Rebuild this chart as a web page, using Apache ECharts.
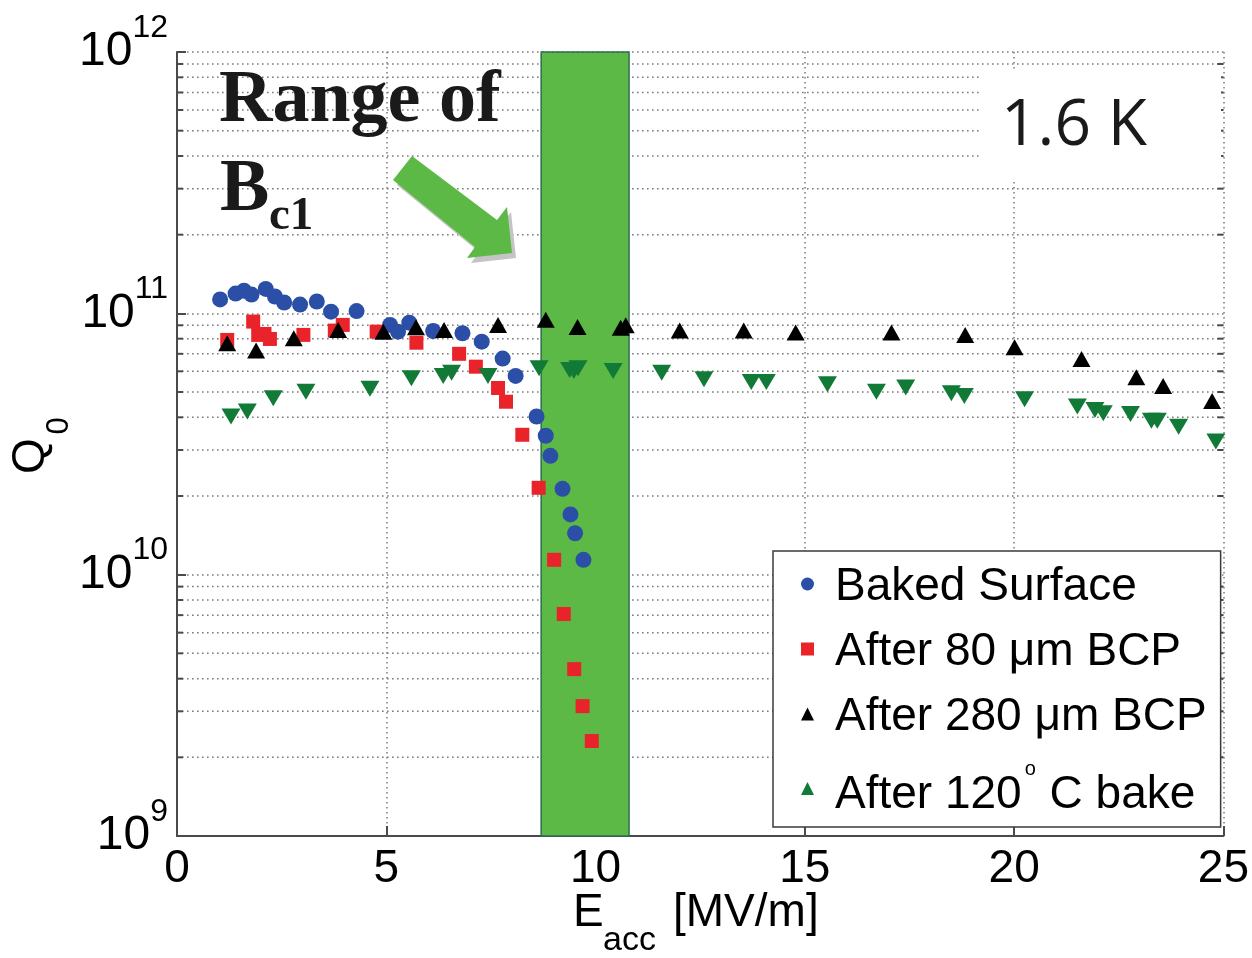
<!DOCTYPE html>
<html>
<head>
<meta charset="utf-8">
<script src="https://cdn.jsdelivr.net/npm/echarts@6/dist/echarts.min.js"></script>
<style>
  html, body { margin: 0; padding: 0; background: #fff; }
  #chart { width: 1252px; height: 958px; }
</style>
</head>
<body>
<div id="chart"></div>
<script>
// Q0 vs accelerating gradient at 1.6 K for successive surface treatments.

// Baked surface
const bakedE = [1.03, 1.40, 1.60, 1.78, 2.12, 2.34, 2.56, 2.94, 3.34, 3.68, 4.29, 5.09, 5.28, 5.55,
                6.12, 6.82, 7.28, 7.78, 8.09, 8.59, 8.81, 8.92, 9.21, 9.40, 9.51, 9.71];
const bakedQ = [1.13e11, 1.19e11, 1.22e11, 1.18e11, 1.24e11, 1.16e11, 1.10e11, 1.08e11, 1.11e11, 1.015e11,
                1.02e11, 9.03e10, 8.51e10, 9.21e10, 8.56e10, 8.39e10, 7.79e10, 6.71e10, 5.76e10, 4.03e10,
                3.40e10, 2.85e10, 2.13e10, 1.70e10, 1.44e10, 1.14e10];

// After 80 um BCP
const bcp80E = [1.20, 1.82, 1.94, 2.09, 2.22, 3.02, 3.77, 3.96, 4.77, 5.72, 6.74, 7.14, 7.67, 7.86,
                8.25, 8.64, 9.01, 9.24, 9.49, 9.69, 9.91];
const bcp80Q = [7.91e10, 9.30e10, 8.27e10, 8.34e10, 7.98e10, 8.27e10, 8.59e10, 9.03e10, 8.51e10, 7.72e10,
                7.0e10, 6.25e10, 5.18e10, 4.59e10, 3.43e10, 2.15e10, 1.14e10, 7.07e9, 4.35e9, 3.14e9, 2.31e9];

// After 280 um BCP
const bcp280E = [1.20, 1.89, 2.79, 3.85, 4.93, 5.71, 6.38, 7.67, 8.81, 9.57, 10.60, 10.72, 12.01, 13.54,
                 14.78, 17.07, 18.83, 20.01, 21.61, 22.92, 23.56, 24.73];
const bcp280Q = [7.69e10, 7.20e10, 8.03e10, 8.64e10, 8.51e10, 8.85e10, 8.64e10, 9.03e10, 9.44e10, 8.87e10,
                 8.80e10, 9.0e10, 8.59e10, 8.59e10, 8.44e10, 8.44e10, 8.27e10, 7.42e10, 6.69e10, 5.69e10,
                 5.27e10, 4.62e10];

// After 120 C bake
const bake120E = [1.29, 1.68, 2.30, 3.08, 4.61, 5.60, 6.36, 6.56, 7.43, 8.65, 9.38, 9.48, 9.58, 10.42,
                  11.58, 12.59, 13.72, 14.08, 15.54, 16.71, 17.41, 18.50, 18.81, 20.25, 21.51, 21.93,
                  22.13, 22.78, 23.28, 23.42, 23.93, 24.82];
const bake120Q = [4.03e10, 4.21e10, 4.73e10, 5.01e10, 5.14e10, 5.65e10, 5.76e10, 5.93e10, 5.76e10, 6.17e10,
                  6.07e10, 6.02e10, 6.17e10, 6.02e10, 5.93e10, 5.59e10, 5.46e10, 5.46e10, 5.35e10, 5.01e10,
                  5.20e10, 4.94e10, 4.83e10, 4.69e10, 4.40e10, 4.27e10, 4.15e10, 4.12e10, 3.88e10, 3.88e10,
                  3.68e10, 3.23e10];

// Range of Bc1 in gradient units (MV/m)
const bc1Range = [8.7, 10.8];

const seriesNames = ['Baked Surface', 'After 80 \u03bcm BCP', 'After 280 \u03bcm BCP', 'After 120\u00b0 C bake'];

// Axis ranges and tick labels
const xMin = 0, xMax = 25, xStep = 5;
const yMin = 1e9, yMax = 1e12;
const minorMantissas = [2, 3, 4, 5, 6, 7, 8, 9];
const decadeExponents = [9, 10, 11];

const SANS = "'Liberation Sans', Arial, Helvetica, sans-serif";
const SERIF = "'Liberation Serif', 'Times New Roman', serif";
const GRID_COLOR = '#7b7b7b';
const GRID_DASH = [1.6, 3.4];
const AXIS_COLOR = '#4a4a4a';

const pairs = (xs, ys) => xs.map((x, i) => [x, ys[i]]);

// minor log grid values: 2..9 x 10^n
const minorQ = [];
decadeExponents.forEach(e => minorMantissas.forEach(m => minorQ.push(m * Math.pow(10, e))));

const chart = echarts.init(document.getElementById('chart'), null, { renderer: 'canvas' });

const option = {
  animation: false,
  backgroundColor: '#fff',
  grid: { left: 177, right: 28, top: 52, bottom: 122, containLabel: false },
  xAxis: {
    type: 'value', min: xMin, max: xMax, interval: xStep,
    axisLine: { show: true, onZero: false, lineStyle: { color: AXIS_COLOR, width: 2 } },
    axisTick: { show: true, inside: true, length: 10, lineStyle: { color: AXIS_COLOR, width: 2 } },
    axisLabel: { fontFamily: SANS, fontSize: 46, color: '#000', margin: 10, showMinLabel: true, showMaxLabel: true },
    splitLine: { show: true, lineStyle: { color: GRID_COLOR, width: 1.5, type: GRID_DASH } }
  },
  yAxis: {
    type: 'log', logBase: 10, min: yMin, max: yMax,
    axisLine: { show: true, onZero: false, lineStyle: { color: AXIS_COLOR, width: 2 } },
    axisTick: { show: true, inside: true, length: 9, lineStyle: { color: AXIS_COLOR, width: 2 } },
    axisLabel: {
      margin: 9, color: '#000',
      formatter: v => '{b|10}{s|' + Math.round(Math.log10(v)) + '}',
      rich: {
        // base "10" sits on the tick, the exponent is raised above it
        b: { fontFamily: SANS, fontSize: 48, lineHeight: 64, color: '#000', padding: [0, 0, 16, 0], verticalAlign: 'bottom' },
        s: { fontFamily: SANS, fontSize: 32, lineHeight: 80, color: '#000', padding: [0, 0, 48, 0], verticalAlign: 'top' }
      }
    },
    splitLine: { show: true, lineStyle: { color: GRID_COLOR, width: 1.5, type: GRID_DASH } }
  },
  legend: {
    data: seriesNames,
    orient: 'vertical', left: 773, top: 551,
    backgroundColor: '#fff', borderColor: '#3a3a3a', borderWidth: 1.5, borderRadius: 0,
    padding: [13, 14, 9, 28],
    itemWidth: 13, itemHeight: 13, itemGap: 19,
    selectedMode: false,
    formatter: name => name === seriesNames[3]
      ? '{t|After 120}{d|o}{t| C bake}'
      : '{t|' + name + '}',
    textStyle: {
      padding: [0, 0, 0, 16],
      rich: {
        t: { fontFamily: SANS, fontSize: 46, lineHeight: 52, color: '#000', verticalAlign: 'bottom' },
        d: { fontFamily: SANS, fontSize: 20, lineHeight: 59, color: '#000', padding: [0, 1, 0, 3], verticalAlign: 'top' }
      }
    }
  },
  series: [
    {
      // minor log-scale grid lines with short ticks on both frame sides
      type: 'custom', name: 'minorGrid', silent: true, z: 0.5,
      data: minorQ.map(q => [xMin, q]),
      renderItem: (params, api) => {
        const q = api.value(1);
        const p0 = api.coord([xMin, q]);
        const p1 = api.coord([xMax, q]);
        return {
          type: 'group',
          children: [
            { type: 'line', shape: { x1: p0[0], y1: p0[1], x2: p1[0], y2: p1[1] },
              style: { stroke: GRID_COLOR, lineWidth: 1.5, lineDash: GRID_DASH } },
            { type: 'line', shape: { x1: p0[0], y1: p0[1], x2: p0[0] + 6, y2: p0[1] },
              style: { stroke: AXIS_COLOR, lineWidth: 2 } },
            { type: 'line', shape: { x1: p1[0] - 6, y1: p1[1], x2: p1[0], y2: p1[1] },
              style: { stroke: AXIS_COLOR, lineWidth: 2 } }
          ]
        };
      }
    },
    {
      // shaded Bc1 band
      type: 'scatter', name: 'bc1Band', data: [], silent: true,
      markArea: {
        silent: true, z: 1,
        itemStyle: { color: '#5cb946', borderColor: '#2f6b58', borderWidth: 1.5 },
        label: { show: false },
        data: [[{ xAxis: bc1Range[0] }, { xAxis: bc1Range[1] }]]
      }
    },
    {
      name: seriesNames[0], type: 'scatter', z: 3,
      symbol: 'circle', symbolSize: 16,
      itemStyle: { color: '#2b4fa6', opacity: 1 },
      data: pairs(bakedE, bakedQ)
    },
    {
      name: seriesNames[1], type: 'scatter', z: 3,
      symbol: 'rect', symbolSize: 14,
      itemStyle: { color: '#e8232a', opacity: 1 },
      data: pairs(bcp80E, bcp80Q)
    },
    {
      name: seriesNames[2], type: 'scatter', z: 3,
      symbol: 'triangle', symbolSize: [18, 16],
      itemStyle: { color: '#000', opacity: 1 },
      data: pairs(bcp280E, bcp280Q)
    },
    {
      name: seriesNames[3], type: 'scatter', z: 3,
      symbol: 'triangle', symbolSize: [19, 16], symbolRotate: 180,
      itemStyle: { color: '#117a36', opacity: 1 },
      data: pairs(bake120E, bake120Q)
    }
  ],
  graphic: [
    // temperature tag on a white patch
    { type: 'rect', z: 50, shape: { x: 980, y: 70, width: 241, height: 112 }, style: { fill: '#fff' } },
    { type: 'text', z: 51, x: 1001, y: 127,
      style: { text: '1.6 K', fontFamily: "'Open Sans', 'Noto Sans', sans-serif", fontSize: 64, fill: '#1a1a1a',
               align: 'left', verticalAlign: 'middle' } },
    // annotation arrow with its drop shadow
    { type: 'polygon', z: 50,
      shape: { points: [[416, 161], [501, 225], [511, 212], [516, 258], [471, 263], [479, 252], [397, 185]] },
      style: { fill: '#c4c4c4' } },
    { type: 'polygon', z: 51,
      shape: { points: [[412, 156], [497, 220], [507, 207], [512, 253], [467, 258], [475, 247], [393, 180]] },
      style: { fill: '#5cb946' } },
    // "Range of Bc1"
    { type: 'text', z: 51, x: 219, y: 102,
      style: { text: 'Range of', fontFamily: SERIF, fontWeight: 'bold', fontSize: 74, fill: '#1a1a1a',
               align: 'left', verticalAlign: 'middle' } },
    { type: 'text', z: 51, x: 220, y: 191,
      style: { text: 'B', fontFamily: SERIF, fontWeight: 'bold', fontSize: 74, fill: '#1a1a1a',
               align: 'left', verticalAlign: 'middle' } },
    { type: 'text', z: 51, x: 269, y: 217,
      style: { text: 'c1', fontFamily: SERIF, fontWeight: 'bold', fontSize: 47, fill: '#1a1a1a',
               align: 'left', verticalAlign: 'middle' } },
    // y axis title Q0
    { type: 'text', z: 51, x: 31, y: 456, rotation: Math.PI / 2,
      style: { text: 'Q', fontFamily: SANS, fontSize: 46, fill: '#000', align: 'center', verticalAlign: 'middle' } },
    { type: 'text', z: 51, x: 59, y: 426, rotation: Math.PI / 2,
      style: { text: '0', fontFamily: SANS, fontSize: 31, fill: '#000', align: 'center', verticalAlign: 'middle' } },
    // x axis title Eacc [MV/m]
    { type: 'text', z: 51, x: 573, y: 913,
      style: { text: 'E', fontFamily: SANS, fontSize: 46, fill: '#000', align: 'left', verticalAlign: 'middle' } },
    { type: 'text', z: 51, x: 603, y: 941,
      style: { text: 'acc', fontFamily: SANS, fontSize: 34, fill: '#000', align: 'left', verticalAlign: 'middle' } },
    { type: 'text', z: 51, x: 673, y: 913,
      style: { text: '[MV/m]', fontFamily: SANS, fontSize: 46, fill: '#000', align: 'left', verticalAlign: 'middle' } }
  ]
};

chart.setOption(option);
</script>
</body>
</html>
